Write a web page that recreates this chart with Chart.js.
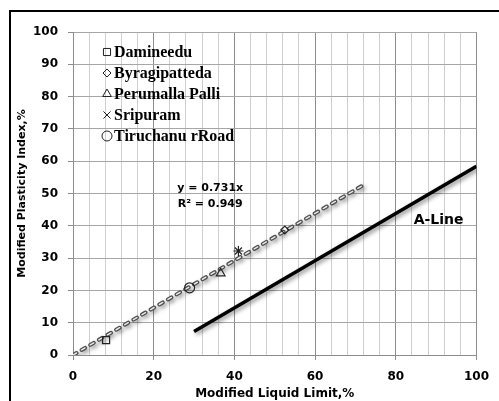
<!DOCTYPE html>
<html>
<head>
<meta charset="utf-8">
<script src="https://cdn.jsdelivr.net/npm/chart.js@4.4.1/dist/chart.umd.min.js"></script>
<style>
  html, body { margin: 0; padding: 0; background: #fff; }
  #wrap { width: 499px; height: 401px; position: relative; }
</style>
</head>
<body>
<div id="wrap"><canvas id="chart"></canvas></div>
<script>
// soil samples
const sites = ['Damineedu', 'Byragipatteda', 'Perumalla Palli', 'Sripuram', 'Tiruchanu rRoad'];
const liquidLimit = [8.2, 52.5, 36.6, 41.0, 28.9];
const plasticityIndex = [4.6, 38.7, 25.3, 32.2, 20.8];
const markers = ['rect', 'rectRot', 'triangle', 'star', 'circle'];

// linear trend through origin
const trendLL = [0, 72.5];
const trendPI = [0, 53.0];

// A-line
const aLineLL = [30, 100];
const aLinePI = [7.3, 58.4];

const xTicks = [0, 20, 40, 60, 80, 100];
const yTicks = [0, 10, 20, 30, 40, 50, 60, 70, 80, 90, 100];

const eqText = 'y = 0.731x';
const r2Text = 'R² = 0.949';
const aLineText = 'A-Line';

const sans = '"DejaVu Sans", Verdana, sans-serif';

const toPoints = (xs, ys) => xs.map((x, i) => ({ x: x, y: ys[i] }));

const datasets = [];
sites.forEach((name, i) => {
    datasets.push({
        label: name,
        data: [{ x: liquidLimit[i], y: plasticityIndex[i] }],
        pointStyle: markers[i],
        pointRadius: markers[i] === 'rectRot' ? 4 : 5,
        pointBorderColor: '#222',
        pointBackgroundColor: 'rgba(255,255,255,0)',
        pointBorderWidth: 1.2,
        showLine: false,
        order: 0
    });
});
datasets.push({
    label: 'trend',
    data: toPoints(trendLL, trendPI),
    showLine: true,
    borderColor: '#4d4d4d',
    borderWidth: 4,
    borderDash: [4, 6],
    borderCapStyle: 'round',
    pointRadius: 0,
    shadow: true,
    order: 2
});
datasets.push({
    label: 'trend-inner',
    data: toPoints(trendLL, trendPI),
    showLine: true,
    borderColor: '#e8e8e8',
    borderWidth: 1.5,
    borderDash: [4, 6],
    borderCapStyle: 'round',
    pointRadius: 0,
    order: 1
});
datasets.push({
    label: 'A-Line',
    data: toPoints(aLineLL, aLinePI),
    showLine: true,
    borderColor: '#000',
    borderWidth: 3.5,
    pointRadius: 0,
    shadow: true,
    order: 3
});

const shadowPlugin = {
    id: 'shadow',
    beforeDatasetDraw(chart, args) {
        const ds = chart.data.datasets[args.index];
        chart.ctx.save();
        if (ds.shadow) {
            chart.ctx.shadowColor = 'rgba(0,0,0,0.45)';
            chart.ctx.shadowBlur = 4;
            chart.ctx.shadowOffsetX = 2;
            chart.ctx.shadowOffsetY = 2;
        }
    },
    afterDatasetDraw(chart) {
        chart.ctx.restore();
    }
};

const extrasPlugin = {
    id: 'extras',
    afterDraw(chart) {
        const ctx = chart.ctx;
        const xs = chart.scales.x, ys = chart.scales.y;
        const area = chart.chartArea;
        ctx.save();

        // outer frame
        ctx.strokeStyle = '#000';
        ctx.lineWidth = 2;
        ctx.strokeRect(10, 11, 600, 600);

        // equation
        ctx.fillStyle = '#000';
        ctx.font = 'bold 11px ' + sans;
        ctx.textAlign = 'center';
        ctx.textBaseline = 'middle';
        ctx.fillText(eqText, xs.getPixelForValue(34), ys.getPixelForValue(51.6));
        ctx.fillText(r2Text, xs.getPixelForValue(34), ys.getPixelForValue(46.7));

        ctx.font = 'bold 14px ' + sans;
        ctx.fillText(aLineText, xs.getPixelForValue(90.6), ys.getPixelForValue(41.8));

        // legend
        ctx.textAlign = 'left';
        ctx.font = 'bold 16px "Liberation Serif", "Times New Roman", serif';
        sites.forEach((name, i) => {
            const y = area.top + 20 + i * 21;
            const mx = area.left + 34;
            ctx.strokeStyle = '#222';
            ctx.fillStyle = 'rgba(255,255,255,0)';
            ctx.lineWidth = 1;
            Chart.helpers.drawPoint(ctx, {
                pointStyle: markers[i] === 'star' ? 'crossRot' : markers[i],
                radius: markers[i] === 'rectRot' ? 4 : 5,
                rotation: 0,
                borderWidth: 1
            }, mx, y);
            ctx.fillStyle = '#000';
            ctx.fillText(name, mx + 7, y + 1);
        });
        ctx.restore();
    }
};

new Chart(document.getElementById('chart'), {
    type: 'scatter',
    data: { datasets: datasets },
    options: {
        responsive: true,
        maintainAspectRatio: false,
        animation: false,
        layout: { padding: { top: 32, right: 13, left: 0, bottom: 0 } },
        plugins: {
            legend: { display: false },
            tooltip: { enabled: false }
        },
        scales: {
            x: {
                type: 'linear',
                min: 0,
                max: 100,
                afterFit: s => { s.height = 46; },
                afterBuildTicks: s => {
                    const t = [];
                    for (let v = 0; v <= 100; v += 4) t.push({ value: v });
                    xTicks.forEach(v => { if (!t.some(k => k.value === v)) t.push({ value: v }); });
                    t.sort((a, b) => a.value - b.value);
                    s.ticks = t;
                },
                ticks: {
                    autoSkip: false,
                    maxRotation: 0,
                    padding: 10,
                    color: '#000',
                    font: { family: sans, size: 12, weight: 'bold' },
                    callback: v => xTicks.includes(v) ? v : ''
                },
                grid: {
                    color: c => xTicks.includes(c.tick.value) ? '#8c8c8c' : '#cfcfcf',
                    tickColor: c => xTicks.includes(c.tick.value) ? '#8c8c8c' : 'rgba(0,0,0,0)',
                    tickLength: 5
                },
                border: { color: '#8c8c8c' },
                title: {
                    display: true,
                    text: 'Modified Liquid Limit,%',
                    color: '#000',
                    font: { family: sans, size: 12, weight: 'bold' },
                    padding: { top: 3, bottom: 0 }
                }
            },
            y: {
                type: 'linear',
                min: 0,
                max: 100,
                afterFit: s => { s.width = 73; },
                afterBuildTicks: s => { s.ticks = yTicks.map(v => ({ value: v })); },
                ticks: {
                    padding: 10,
                    color: '#000',
                    font: { family: sans, size: 12, weight: 'bold' }
                },
                grid: {
                    color: '#a6a6a6',
                    tickColor: '#8c8c8c',
                    tickLength: 5
                },
                border: { color: '#8c8c8c' },
                title: {
                    display: true,
                    text: 'Modified Plasticity Index,%',
                    color: '#000',
                    font: { family: sans, size: 11, weight: 'bold' },
                    padding: { top: 16, bottom: 0 }
                }
            }
        }
    },
    plugins: [shadowPlugin, extrasPlugin]
});
</script>
</body>
</html>
